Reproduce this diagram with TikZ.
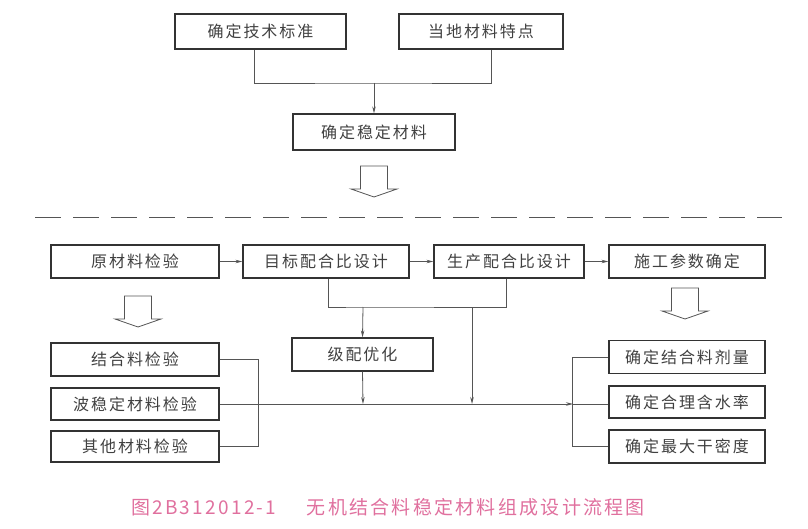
\documentclass[tikz,border=0pt]{standalone}
\usepackage{fontspec}
\newfontfamily\cjk[LetterSpace=12]{Noto Sans CJK SC}
\usetikzlibrary{arrows.meta}
\definecolor{capcolor}{RGB}{224,112,158}
\definecolor{linecolor}{RGB}{85,85,85}

\tikzset{
  hollow arrow/.pic={
    \draw[linecolor, line width=0.8pt, fill=white]
      (-13.5,0) -- (13.5,0) -- (13.5,23) -- (23,23) -- (0,31)
      -- (-23,23) -- (-13.5,23) -- cycle;
  }
}

\begin{document}
\begin{tikzpicture}[x=1pt, y=-1pt,
  box/.style={draw=black!80, line width=1.2pt, minimum height=33pt, inner sep=0pt,
    font=\cjk\fontsize{16}{18}\selectfont, text=black!75},
  line/.style={draw=linecolor, line width=0.8pt},
  arrow/.style={line, -{Stealth[length=7pt, width=3.5pt]}}
]
\useasboundingbox (0,0) rectangle (808,529);

% upper part
\node[box, minimum width=171pt, minimum height=35pt] at (260.5,31.5) (std) {确定技术标准};
\node[box, minimum width=164pt, minimum height=35pt] at (481,31.5) (local) {当地材料特点};
\node[box, minimum width=162pt, minimum height=36pt] at (374,132) (stab) {确定稳定材料};
\coordinate (topjoin) at (374,83);

\draw[line] ([xshift=-6pt]std.south) |- (topjoin) -| ([xshift=10pt]local.south);
\draw[arrow] (topjoin) -- (stab.north);
\pic at (374,166) {hollow arrow};

\draw[line, dash pattern=on 26pt off 12pt] (35,217) -- (782,217);

% lower part
\node[box, minimum width=168pt] at (135,261.5) (raw) {原材料检验};
\node[box, minimum width=166pt] at (326,261.5) (target) {目标配合比设计};
\node[box, minimum width=150pt] at (509,261.5) (prod) {生产配合比设计};
\node[box, minimum width=156pt] at (687,261.5) (cons) {施工参数确定};

\draw[arrow] (raw) -- (target);
\draw[arrow] (target) -- (prod);
\draw[arrow] (prod) -- (cons);

\pic at (138,296) {hollow arrow};
\pic at (685,288) {hollow arrow};

\node[box, minimum width=141pt] at (362.5,354.5) (grade) {级配优化};
\node[box, minimum width=168pt] at (135,359.5) (binder) {结合料检验};
\node[box, minimum width=168pt, minimum height=32pt] at (135,404) (stabilized) {波稳定材料检验};
\node[box, minimum width=168pt, minimum height=31pt] at (135,446.5) (other) {其他材料检验};
\node[box, minimum width=156pt] at (687,357) (dose) {确定结合料剂量};
\node[box, minimum width=156pt, minimum height=32pt] at (687,402) (water) {确定合理含水率};
\node[box, minimum width=156pt] at (687,446.5) (dens) {确定最大干密度};

\coordinate (midjoin) at (363,307);
\coordinate (prodjoin) at (472,307);
\coordinate (gradeend) at (363,404);
\coordinate (prodend) at (472,404);
\coordinate (rightjoin) at (573,404);

\draw[line] ([xshift=2pt]target.south) |- (midjoin) -| ([xshift=-3pt]prod.south);
\draw[arrow] (midjoin) -- (grade.north);
\draw[arrow] (grade.south) -- (gradeend);
\draw[arrow] (prodjoin) -- (prodend);
\draw[arrow] (stabilized.east) -- (rightjoin);
\draw[line] (rightjoin) -- (water.west |- rightjoin);
\draw[line] (binder.east) -- ++(39,0) |- (other.east);
\draw[line] (dose.west) -- ++(-36,0) |- (dens.west);

% caption
\node[font=\cjk\fontsize{19}{21}\selectfont, text=capcolor] at (388,507) (caption)
  {图2B312012-1\hspace{1.6em}无机结合料稳定材料组成设计流程图};
\end{tikzpicture}
\end{document}
